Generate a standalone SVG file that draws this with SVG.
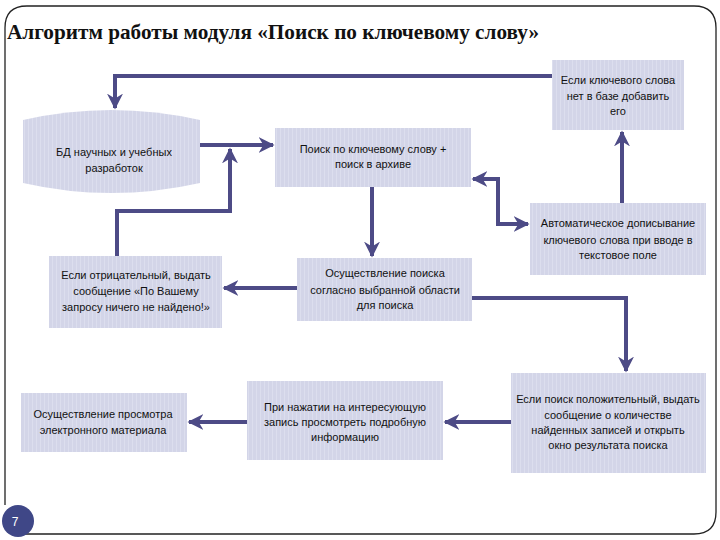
<svg xmlns="http://www.w3.org/2000/svg" width="720" height="540" viewBox="0 0 720 540">
<defs>
<style>
.t{font-family:"Liberation Sans Narrow","Liberation Sans",Arial,sans-serif;font-size:11px;fill:#111;text-anchor:middle;}
.c{fill:none;stroke:#4d4b86;stroke-width:4;}
</style>
<pattern id="str" width="4" height="10" patternUnits="userSpaceOnUse">
<rect width="4" height="10" fill="#d3d5e8"/>
<rect width="1" height="10" fill="#dcdeee"/>
</pattern>
<marker id="ah" viewBox="0 0 10 10" refX="9" refY="5" markerWidth="4" markerHeight="4" orient="auto" markerUnits="strokeWidth">
<path d="M0,0 L10,5 L0,10 L3,5 z" fill="#4d4b86"/>
</marker>
</defs>
<rect width="720" height="540" fill="#fff"/>
<path d="M5,505 L5,28 Q5,6 27,6 L694,6 Q716,6 716,28 L716,512 Q716,534 694,534 L20,534" fill="none" stroke="#222" stroke-width="1.3"/>
<text x="7" y="39" font-family="'Liberation Serif','Times New Roman',serif" font-size="21" font-weight="bold" fill="#111" textLength="532" lengthAdjust="spacingAndGlyphs">Алгоритм работы модуля «Поиск по ключевому слову»</text>

<g id="connectors">
<path class="c" d="M552,76 L115,76 L115,108" marker-end="url(#ah)"/>
<path class="c" d="M200,145 L273,145" marker-end="url(#ah)"/>
<path class="c" d="M117,256 L117,211 L230,211 L230,149" marker-end="url(#ah)"/>
<path class="c" d="M372,187 L372,256" marker-end="url(#ah)"/>
<path class="c" d="M498,200 L498,179 L473,179" marker-end="url(#ah)"/>
<path class="c" d="M498,200 L498,224 L528,224" marker-end="url(#ah)"/>
<path class="c" d="M622,203 L622,132" marker-end="url(#ah)"/>
<path class="c" d="M297,288 L224,288" marker-end="url(#ah)"/>
<path class="c" d="M472,298 L626,298 L626,371" marker-end="url(#ah)"/>
<path class="c" d="M511,422 L445,422" marker-end="url(#ah)"/>
<path class="c" d="M247,422 L189,422" marker-end="url(#ah)"/>
</g>

<g id="n-add">
<rect x="552" y="60" width="132" height="70" fill="url(#str)"/>
<text class="t" x="618" y="84">Если ключевого слова</text>
<text class="t" x="618" y="100">нет в базе добавить</text>
<text class="t" x="618" y="115">его</text>
</g>
<g id="n-db">
<path d="M23,120 Q111,100 200,120 L200,183 Q111,203 23,183 Z" fill="url(#str)"/>
<text class="t" x="114" y="156">БД научных и учебных</text>
<text class="t" x="114" y="172">разработок</text>
</g>
<g id="n-search">
<rect x="275" y="128" width="196" height="59" fill="url(#str)"/>
<text class="t" x="373" y="153">Поиск по ключевому слову +</text>
<text class="t" x="373" y="168">поиск в архиве</text>
</g>
<g id="n-auto">
<rect x="530" y="203" width="176" height="72" fill="url(#str)"/>
<text class="t" x="618" y="227">Автоматическое дописывание</text>
<text class="t" x="618" y="244">ключевого слова при вводе в</text>
<text class="t" x="618" y="259">текстовое поле</text>
</g>
<g id="n-neg">
<rect x="49" y="256" width="173" height="72" fill="url(#str)"/>
<text class="t" x="136" y="279">Если отрицательный, выдать</text>
<text class="t" x="136" y="295">сообщение «По Вашему</text>
<text class="t" x="136" y="311">запросу ничего не найдено!»</text>
</g>
<g id="n-exec">
<rect x="297" y="258" width="175" height="63" fill="url(#str)"/>
<text class="t" x="385" y="277">Осуществление поиска</text>
<text class="t" x="385" y="294">согласно выбранной области</text>
<text class="t" x="385" y="309">для поиска</text>
</g>
<g id="n-pos">
<rect x="511" y="373" width="195" height="100" fill="url(#str)"/>
<text class="t" x="608" y="403">Если поиск положительный, выдать</text>
<text class="t" x="608" y="419">сообщение о количестве</text>
<text class="t" x="608" y="434">найденных записей и открыть</text>
<text class="t" x="608" y="449">окно результата поиска</text>
</g>
<g id="n-click">
<rect x="247" y="381" width="196" height="79" fill="url(#str)"/>
<text class="t" x="345" y="411">При нажатии на интересующую</text>
<text class="t" x="345" y="426">запись просмотреть подробную</text>
<text class="t" x="345" y="441">информацию</text>
</g>
<g id="n-view">
<rect x="21" y="393" width="166" height="59" fill="url(#str)"/>
<text class="t" x="103" y="418">Осуществление просмотра</text>
<text class="t" x="103" y="434">электронного материала</text>
</g>
<g id="page">
<circle cx="18" cy="521" r="16" fill="#3f4787"/>
<text x="15" y="526" font-family="'Liberation Sans',Arial,sans-serif" font-size="12" fill="#fff" text-anchor="middle">7</text>
</g>
</svg>
